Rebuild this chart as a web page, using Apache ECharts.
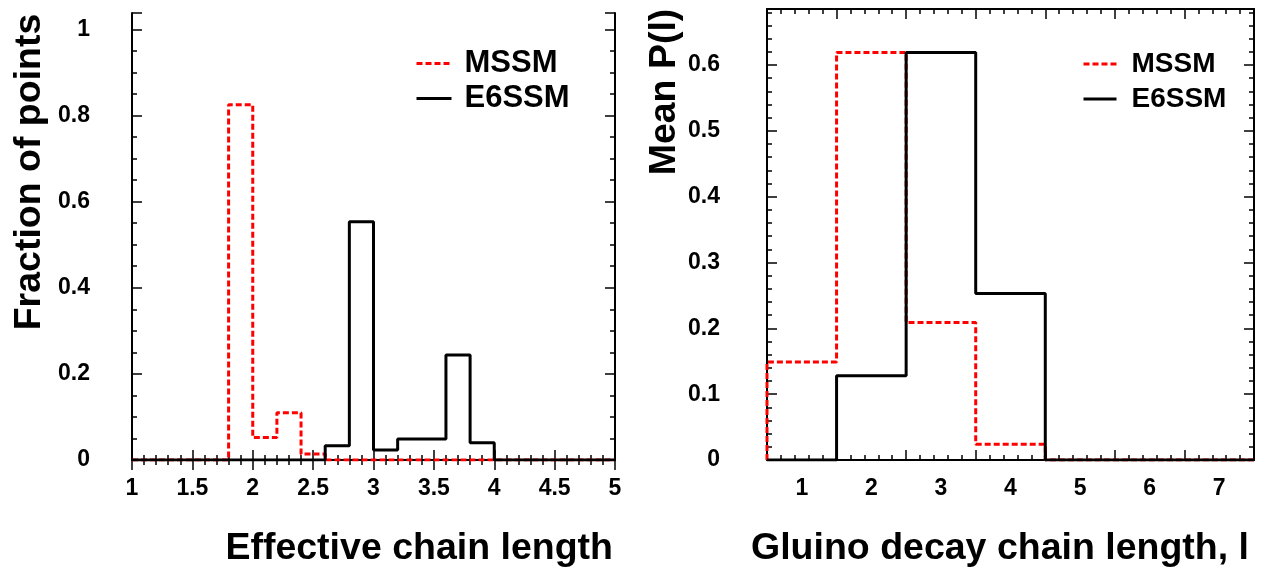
<!DOCTYPE html>
<html><head><meta charset="utf-8">
<script src="https://cdn.jsdelivr.net/npm/echarts@6/dist/echarts.min.js"></script>
<style>html,body{margin:0;padding:0;background:#fff}#c{width:1266px;height:568px}</style>
</head><body><div id="c"></div>
<script>
// ---- data ----
const leftEdges = [1, 1.2, 1.4, 1.6, 1.8, 2, 2.2, 2.4, 2.6, 2.8, 3, 3.2, 3.4, 3.6, 3.8, 4, 4.2, 4.4, 4.6, 4.8, 5];
const leftMSSM  = [0, 0, 0, 0, 0.825, 0.052, 0.110, 0.014, 0, 0, 0, 0, 0, 0, 0, 0, 0, 0, 0, 0];
const leftE6SSM = [0, 0, 0, 0, 0, 0, 0, 0, 0.033, 0.553, 0.023, 0.049, 0.049, 0.244, 0.040, 0, 0, 0, 0, 0];
const rightEdges = [0.5, 1.5, 2.5, 3.5, 4.5, 5.5, 6.5, 7.5];
const rightCategories = ['1', '2', '3', '4', '5', '6', '7'];
const rightMSSM  = [0.149, 0.619, 0.209, 0.024, 0, 0, 0];
const rightE6SSM = [0, 0.128, 0.619, 0.253, 0, 0, 0];
const seriesNames = ['MSSM', 'E6SSM'];
const leftXTitle = 'Effective chain length';
const leftYTitle = 'Fraction of points';
const rightXTitle = 'Gluino decay chain length, l';
const rightYTitle = 'Mean P(l)';

// ---- helpers ----
function stepData(edges, vals) {
  const d = [[edges[0], 0]];
  vals.forEach((v, i) => d.push([edges[i], v]));
  d.push([edges[edges.length - 1], vals[vals.length - 1]]);
  d.push([edges[edges.length - 1], 0]);
  return d;
}
const FONT = "'Liberation Sans', Arial, Helvetica, sans-serif";
const lineBlack = { lineStyle: { color: '#000', width: 2 } };
const majorTick = { show: true, inside: true, length: 10, lineStyle: { color: '#000', width: 1.5 } };
const minorTick = (n) => ({ show: true, splitNumber: n, length: 5, lineStyle: { color: '#000', width: 1.5 } });
const labelStyle = { color: '#000', fontFamily: FONT, fontWeight: 'bold', fontSize: 23 };
const minorCats = Array.from({ length: 35 }, (_, i) => String(i));

const chart = echarts.init(document.getElementById('c'), null, { renderer: 'canvas' });
const option = {
  backgroundColor: '#fff',
  animation: false,
  grid: [
    { left: 132, top: 13, width: 483, height: 447 },
    { left: 767, top: 9, width: 487, height: 451 }
  ],
  xAxis: [
    { type: 'value', gridIndex: 0, position: 'bottom', min: 1, max: 5, interval: 0.5,
      axisLine: lineBlack, axisTick: majorTick, minorTick: minorTick(5), splitLine: { show: false },
      axisLabel: Object.assign({ margin: 17 }, labelStyle) },
    { type: 'value', gridIndex: 0, position: 'top', min: 1, max: 5, interval: 0.5,
      axisLine: lineBlack, axisTick: majorTick, minorTick: minorTick(5), splitLine: { show: false },
      axisLabel: { show: false } },
    { type: 'value', gridIndex: 1, min: 0.5, max: 7.5, show: false },
    { type: 'category', gridIndex: 1, position: 'bottom', data: rightCategories, boundaryGap: true,
      axisLine: lineBlack, axisTick: Object.assign({ interval: 0 }, majorTick),
      axisLabel: Object.assign({ margin: 17, interval: 0 }, labelStyle) },
    { type: 'category', gridIndex: 1, position: 'bottom', data: minorCats, boundaryGap: true,
      axisLine: { show: false }, axisTick: { show: true, inside: true, length: 5, interval: 0, lineStyle: { color: '#000', width: 1.5 } },
      axisLabel: { show: false } },
    { type: 'category', gridIndex: 1, position: 'top', data: rightCategories, boundaryGap: true,
      axisLine: lineBlack, axisTick: Object.assign({ interval: 0 }, majorTick), axisLabel: { show: false } },
    { type: 'category', gridIndex: 1, position: 'top', data: minorCats, boundaryGap: true,
      axisLine: { show: false }, axisTick: { show: true, inside: true, length: 5, interval: 0, lineStyle: { color: '#000', width: 1.5 } },
      axisLabel: { show: false } }
  ],
  yAxis: [
    { type: 'value', gridIndex: 0, position: 'left', min: 0, max: 1.038, interval: 0.2,
      axisLine: lineBlack, axisTick: majorTick, minorTick: minorTick(4), splitLine: { show: false },
      axisLabel: Object.assign({ margin: 42, showMaxLabel: false }, labelStyle) },
    { type: 'value', gridIndex: 0, position: 'right', min: 0, max: 1.038, interval: 0.2,
      axisLine: lineBlack, axisTick: majorTick, minorTick: minorTick(4), splitLine: { show: false },
      axisLabel: { show: false } },
    { type: 'value', gridIndex: 1, position: 'left', min: 0, max: 0.685, interval: 0.1,
      axisLine: lineBlack, axisTick: majorTick, minorTick: minorTick(5), splitLine: { show: false },
      axisLabel: Object.assign({ margin: 47, showMaxLabel: false }, labelStyle) },
    { type: 'value', gridIndex: 1, position: 'right', min: 0, max: 0.685, interval: 0.1,
      axisLine: lineBlack, axisTick: majorTick, minorTick: minorTick(5), splitLine: { show: false },
      axisLabel: { show: false } }
  ],
  legend: [
    { left: 415, top: 48, padding: 0, orient: 'vertical', data: seriesNames, itemWidth: 35, itemHeight: 14, itemGap: 4,
      selectedMode: false, itemStyle: { opacity: 0 }, lineStyle: { width: 3 },
      textStyle: { padding: [0, 0, 0, 8], color: '#000', fontFamily: FONT, fontWeight: 'bold', fontSize: 31 } },
    { left: 1082, top: 50, padding: 0, orient: 'vertical', data: seriesNames, itemWidth: 33, itemHeight: 14, itemGap: 7,
      selectedMode: false, itemStyle: { opacity: 0 }, lineStyle: { width: 3 },
      textStyle: { padding: [0, 0, 0, 10], color: '#000', fontFamily: FONT, fontWeight: 'bold', fontSize: 28 } }
  ],
  series: [
    { name: seriesNames[0], type: 'line', step: 'end', xAxisIndex: 0, yAxisIndex: 0, symbol: 'none',
      data: stepData(leftEdges, leftMSSM), lineStyle: { color: '#ff0000', width: 3, type: [6, 3] }, itemStyle: { color: '#ff0000' } },
    { name: seriesNames[1], type: 'line', step: 'end', xAxisIndex: 0, yAxisIndex: 0, symbol: 'none',
      data: stepData(leftEdges, leftE6SSM), lineStyle: { color: '#000', width: 3 }, itemStyle: { color: '#000' } },
    { name: seriesNames[0], type: 'line', step: 'end', xAxisIndex: 2, yAxisIndex: 2, symbol: 'none',
      data: stepData(rightEdges, rightMSSM), lineStyle: { color: '#ff0000', width: 3, type: [6, 3] }, itemStyle: { color: '#ff0000' } },
    { name: seriesNames[1], type: 'line', step: 'end', xAxisIndex: 2, yAxisIndex: 2, symbol: 'none',
      data: stepData(rightEdges, rightE6SSM), lineStyle: { color: '#000', width: 3 }, itemStyle: { color: '#000' } }
  ],
  graphic: [
    { type: 'text', x: 613, y: 549, style: { text: leftXTitle, textAlign: 'right', textVerticalAlign: 'middle',
      font: "bold 37.5px " + FONT, fill: '#000' } },
    { type: 'text', x: 1000, y: 549, style: { text: rightXTitle, textAlign: 'center', textVerticalAlign: 'middle',
      font: "bold 37.5px " + FONT, fill: '#000' } },
    { type: 'text', x: 30, y: 172, rotation: Math.PI / 2, style: { text: leftYTitle, textAlign: 'center', textVerticalAlign: 'middle',
      font: "bold 37.5px " + FONT, fill: '#000' } },
    { type: 'text', x: 665, y: 92, rotation: Math.PI / 2, style: { text: rightYTitle, textAlign: 'center', textVerticalAlign: 'middle',
      font: "bold 37.5px " + FONT, fill: '#000' } }
  ]
};
chart.setOption(option);
</script>
</body></html>
